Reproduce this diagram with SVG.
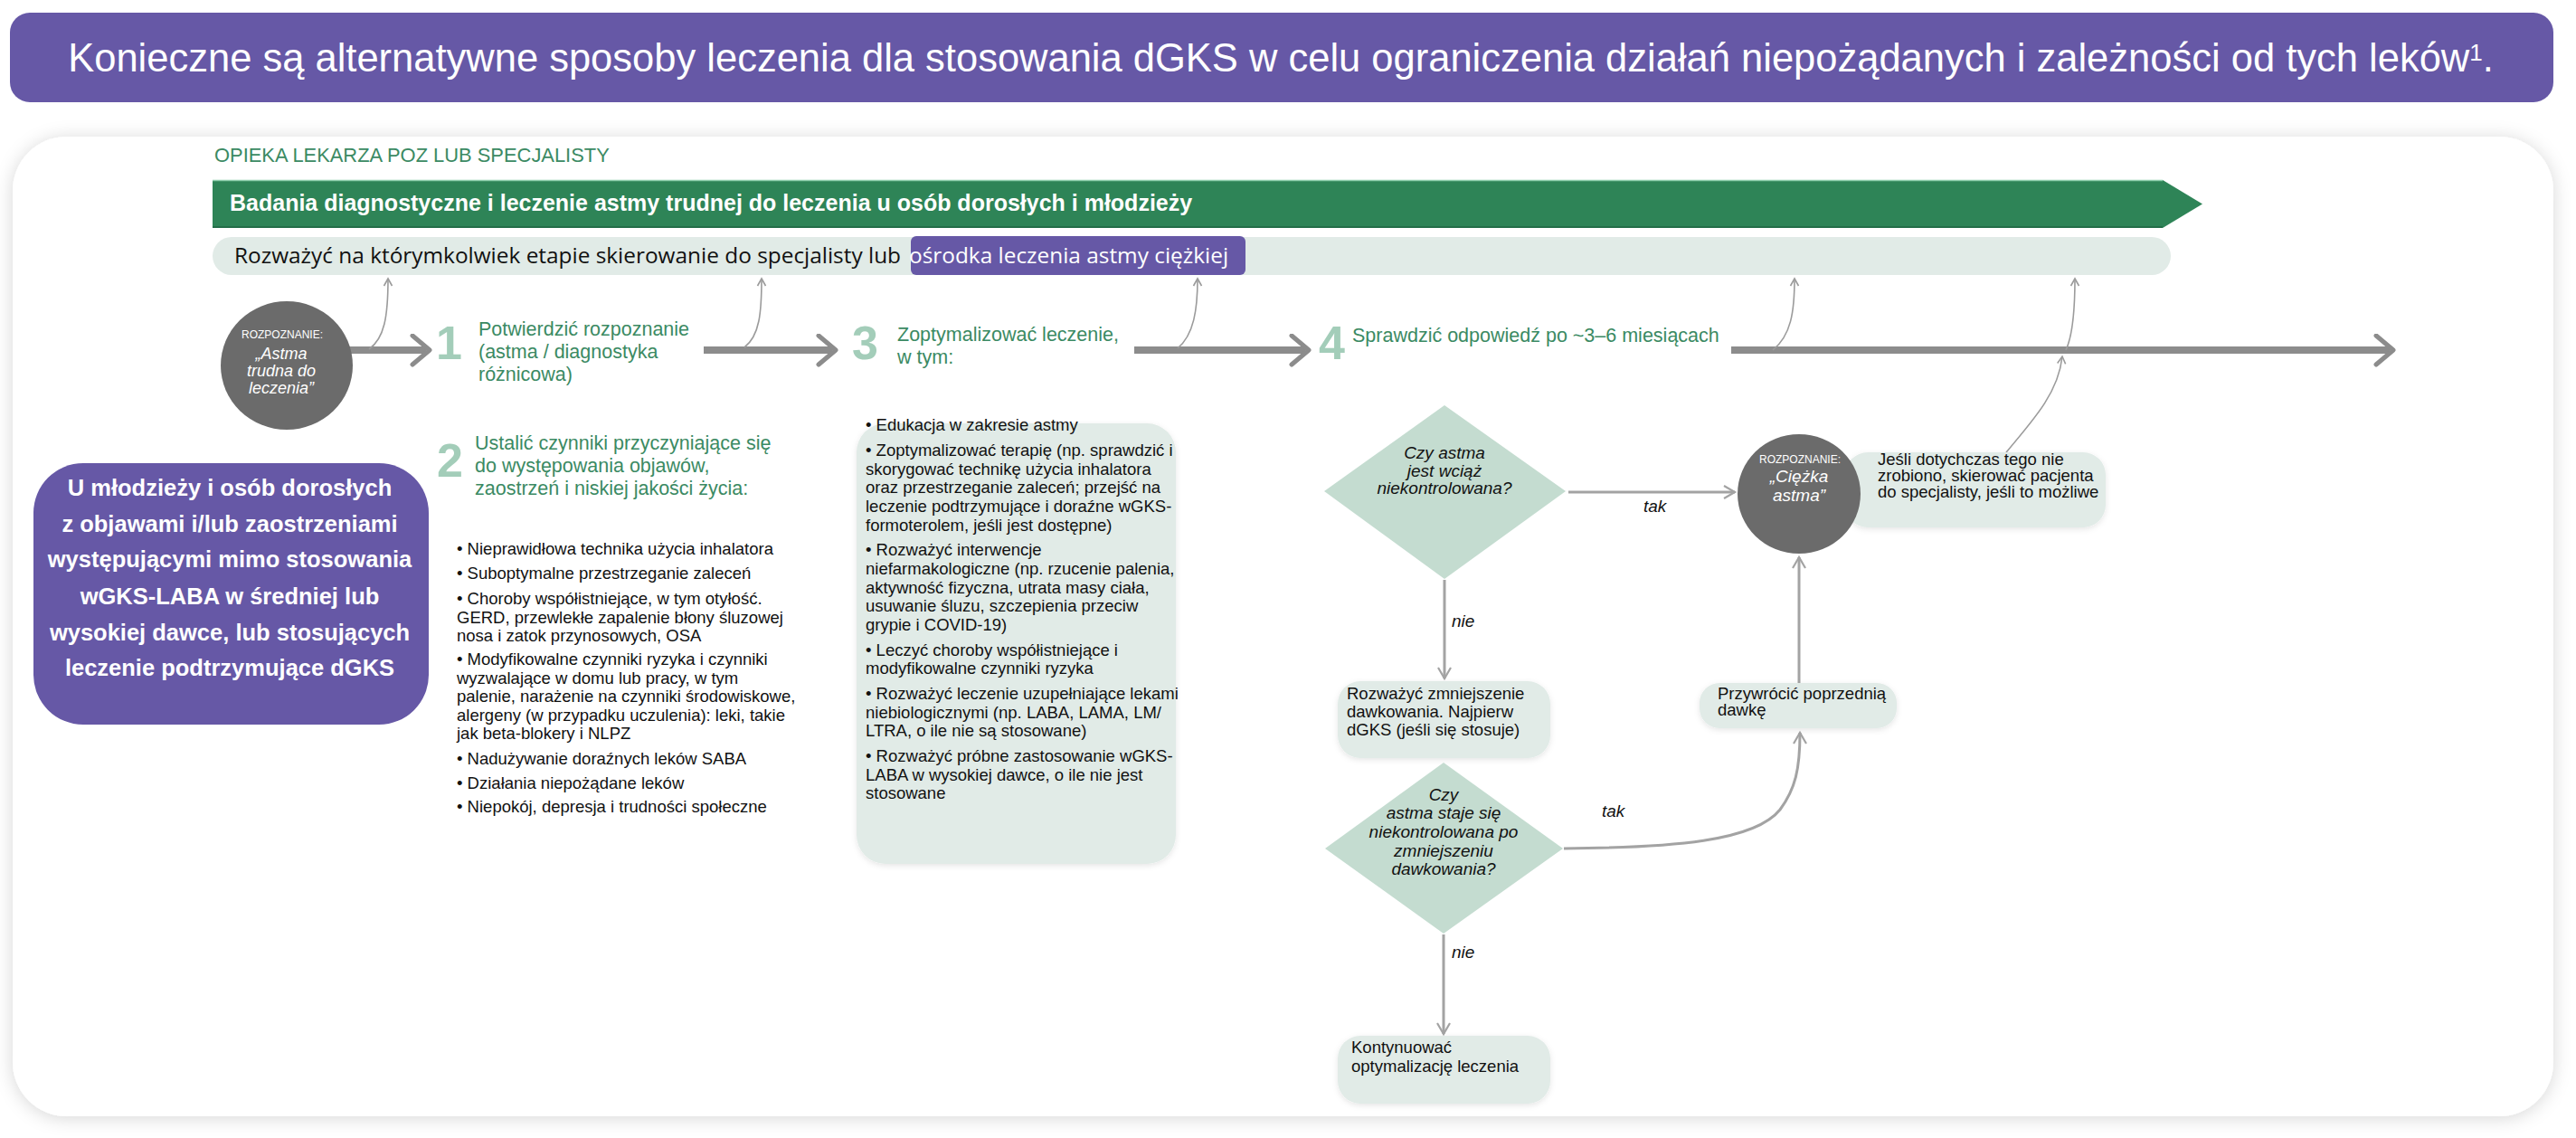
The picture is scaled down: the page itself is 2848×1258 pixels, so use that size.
<svg xmlns="http://www.w3.org/2000/svg" width="2848" height="1258" viewBox="0 0 2848 1258">
<defs>
<style>
.f{font-family:"Liberation Sans",Arial,sans-serif;}
.w{fill:#ffffff;}
.k{fill:#111111;}
.g{fill:#3b8a63;font-size:21.5px;}
.num{fill:#a3cdb9;font-size:52px;font-weight:bold;}
.li{font-size:18.5px;fill:#111;}
.it{font-style:italic;}
.box{fill:#e1ebe7;}
.dia{fill:#c4dcd0;}
.big{fill:none;stroke:#8c8c8c;stroke-width:8;}
.thin{fill:none;stroke:#9b9b9b;stroke-width:1.6;}
.flow{fill:none;stroke:#a3a3a3;stroke-width:3;}
</style>
<filter id="sh" x="-5%" y="-8%" width="110%" height="116%">
<feDropShadow dx="0" dy="2" stdDeviation="10" flood-color="#000" flood-opacity="0.16"/>
</filter>
<filter id="bs" x="-10%" y="-10%" width="120%" height="130%">
<feDropShadow dx="0" dy="2" stdDeviation="3" flood-color="#000" flood-opacity="0.10"/>
</filter>
<marker id="mBig" markerUnits="userSpaceOnUse" markerWidth="34" markerHeight="40" refX="18" refY="18" orient="auto">
<path d="M3,2 L22,18 L3,34" fill="none" stroke="#8c8c8c" stroke-width="5" stroke-linecap="round" stroke-linejoin="round"/>
</marker>
<marker id="mThin" markerUnits="userSpaceOnUse" markerWidth="14" markerHeight="14" refX="9" refY="6" orient="auto">
<path d="M1,1.5 L9,6 L1,10.5" fill="none" stroke="#9b9b9b" stroke-width="1.6"/>
</marker>
<marker id="mFlow" markerUnits="userSpaceOnUse" markerWidth="18" markerHeight="18" refX="13" refY="8" orient="auto">
<path d="M1,1 L13,8 L1,15" fill="none" stroke="#a3a3a3" stroke-width="2.2"/>
</marker>
</defs>

<rect width="2848" height="1258" fill="#ffffff"/>

<g id="title">
<rect x="11" y="14" width="2812" height="99" rx="22" fill="#6658a6"/>
<text class="f w" x="1416" y="79" font-size="43.5" text-anchor="middle">Konieczne są alternatywne sposoby leczenia dla stosowania dGKS w celu ograniczenia działań niepożądanych i zależności od tych leków<tspan font-size="26" dy="-12">1</tspan><tspan dy="12">.</tspan></text>
</g>

<g id="panel">
<rect x="14" y="151" width="2809" height="1083" rx="60" fill="#ffffff" filter="url(#sh)"/>
</g>

<g id="care-label">
<text class="f" x="237" y="179" font-size="21.9" fill="#3b8a63">OPIEKA LEKARZA POZ LUB SPECJALISTY</text>
</g>

<g id="green-bar">
<polygon points="235,199 2391,199 2435,225.5 2391,252 235,252" fill="#2e8457"/>
<line x1="235" y1="199.5" x2="2391" y2="199.5" stroke="#8fd0ad" stroke-width="1.5"/>
<line x1="235" y1="251" x2="2391" y2="251" stroke="#236e48" stroke-width="2"/>
<text class="f w" x="254" y="233" font-size="25" font-weight="bold">Badania diagnostyczne i leczenie astmy trudnej do leczenia u osób dorosłych i młodzieży</text>
</g>

<g id="referral-bar">
<rect x="235" y="262" width="2165" height="42" rx="21" fill="#e1ebe7"/>
<rect x="1007" y="261" width="370" height="43" rx="6" fill="#6658a6"/>
<text x="259" y="291" font-family="'Open Sans',sans-serif" font-size="24.4" fill="#111">Rozważyć na którymkolwiek etapie skierowanie do specjalisty lub</text>
<text x="1005" y="291" font-family="'Open Sans',sans-serif" font-size="24.4" fill="#ffffff">ośrodka leczenia astmy ciężkiej</text>
</g>

<g id="connectors">
<path class="big" d="M386,387 H471" marker-end="url(#mBig)"/>
<path class="big" d="M778,387 H920" marker-end="url(#mBig)"/>
<path class="big" d="M1254,387 H1443" marker-end="url(#mBig)"/>
<path class="big" d="M1914,387 H2642" marker-end="url(#mBig)"/>
<path class="thin" d="M408,386 C425,374 429,350 429,308" marker-end="url(#mThin)"/>
<path class="thin" d="M823,384 C840,371 842,345 842,308" marker-end="url(#mThin)"/>
<path class="thin" d="M1302,385 C1320,370 1324,342 1324,308" marker-end="url(#mThin)"/>
<path class="thin" d="M1960,387 C1980,371 1984,345 1984,308" marker-end="url(#mThin)"/>
<path class="thin" d="M2218,500 C2252,460 2276,432 2280,394" marker-end="url(#mThin)"/>
<path class="thin" d="M2284,387 C2292,370 2294,342 2294,308" stroke-width="2.4" marker-end="url(#mThin)"/>
<path class="flow" d="M1734,544 H1918" marker-end="url(#mFlow)"/>
<path class="flow" d="M1597,641 V750" marker-end="url(#mFlow)"/>
<path class="flow" d="M1989,757 V616" marker-end="url(#mFlow)"/>
<path class="flow" d="M1596,1033 V1143" marker-end="url(#mFlow)"/>
<path class="flow" d="M1729,938 C1850,937 1940,930 1968,895 C1985,872 1990,850 1990,810" marker-end="url(#mFlow)"/>
<text class="f it k" x="1817" y="566" font-size="19">tak</text>
<text class="f it k" x="1605" y="693" font-size="19">nie</text>
<text class="f it k" x="1771" y="903" font-size="19">tak</text>
<text class="f it k" x="1605" y="1059" font-size="19">nie</text>
</g>

<g id="diagnosis-difficult">
<ellipse cx="317" cy="404" rx="73" ry="71" fill="#6b6b6b"/>
<text class="f w" x="312" y="374" font-size="12" text-anchor="middle">ROZPOZNANIE:</text>
<text class="f w it" x="311" y="397" font-size="18" text-anchor="middle">„Astma</text>
<text class="f w it" x="311" y="416" font-size="18" text-anchor="middle">trudna do</text>
<text class="f w it" x="311" y="435" font-size="18" text-anchor="middle">leczenia”</text>
</g>

<g id="step1">
<text class="f num" x="482" y="397">1</text>
<text class="f g" x="529" y="371">Potwierdzić rozpoznanie</text>
<text class="f g" x="529" y="396">(astma / diagnostyka</text>
<text class="f g" x="529" y="421">różnicowa)</text>
</g>

<g id="patient-box">
<rect x="37" y="512" width="437" height="289" rx="55" fill="#6658a6"/>
<g class="f w" font-size="25.5" font-weight="bold" text-anchor="middle">
<text x="254" y="548">U młodzieży i osób dorosłych</text>
<text x="254" y="588">z objawami i/lub zaostrzeniami</text>
<text x="254" y="627">występującymi mimo stosowania</text>
<text x="254" y="668">wGKS-LABA w średniej lub</text>
<text x="254" y="708">wysokiej dawce, lub stosujących</text>
<text x="254" y="747">leczenie podtrzymujące dGKS</text>
</g>
</g>

<g id="step2">
<text class="f num" x="483" y="527">2</text>
<text class="f g" x="525" y="497">Ustalić czynniki przyczyniające się</text>
<text class="f g" x="525" y="522">do występowania objawów,</text>
<text class="f g" x="525" y="547">zaostrzeń i niskiej jakości życia:</text>
<g class="f li">
<text x="505" y="613">• Nieprawidłowa technika użycia inhalatora</text>
<text x="505" y="640">• Suboptymalne przestrzeganie zaleceń</text>
<text x="505" y="668">• Choroby współistniejące, w tym otyłość.</text>
<text x="505" y="688.5">GERD, przewlekłe zapalenie błony śluzowej</text>
<text x="505" y="709">nosa i zatok przynosowych, OSA</text>
<text x="505" y="735">• Modyfikowalne czynniki ryzyka i czynniki</text>
<text x="505" y="755.5">wyzwalające w domu lub pracy, w tym</text>
<text x="505" y="776">palenie, narażenie na czynniki środowiskowe,</text>
<text x="505" y="796.5">alergeny (w przypadku uczulenia): leki, takie</text>
<text x="505" y="817">jak beta-blokery i NLPZ</text>
<text x="505" y="845">• Nadużywanie doraźnych leków SABA</text>
<text x="505" y="872">• Działania niepożądane leków</text>
<text x="505" y="898">• Niepokój, depresja i trudności społeczne</text>
</g>
</g>

<g id="step3">
<text class="f num" x="942" y="397">3</text>
<text class="f g" x="992" y="377">Zoptymalizować leczenie,</text>
<text class="f g" x="992" y="402">w tym:</text>
<rect class="box" x="947" y="468" width="353" height="487" rx="32" filter="url(#bs)"/>
<g class="f li">
<text x="957" y="476">• Edukacja w zakresie astmy</text>
<text x="957" y="504">• Zoptymalizować terapię (np. sprawdzić i</text>
<text x="957" y="525">skorygować technikę użycia inhalatora</text>
<text x="957" y="545">oraz przestrzeganie zaleceń; przejść na</text>
<text x="957" y="566">leczenie podtrzymujące i doraźne wGKS-</text>
<text x="957" y="587">formoterolem, jeśli jest dostępne)</text>
<text x="957" y="614">• Rozważyć interwencje</text>
<text x="957" y="635">niefarmakologiczne (np. rzucenie palenia,</text>
<text x="957" y="656">aktywność fizyczna, utrata masy ciała,</text>
<text x="957" y="676">usuwanie śluzu, szczepienia przeciw</text>
<text x="957" y="697">grypie i COVID-19)</text>
<text x="957" y="725">• Leczyć choroby współistniejące i</text>
<text x="957" y="745">modyfikowalne czynniki ryzyka</text>
<text x="957" y="773">• Rozważyć leczenie uzupełniające lekami</text>
<text x="957" y="794">niebiologicznymi (np. LABA, LAMA, LM/</text>
<text x="957" y="814">LTRA, o ile nie są stosowane)</text>
<text x="957" y="842">• Rozważyć próbne zastosowanie wGKS-</text>
<text x="957" y="863">LABA w wysokiej dawce, o ile nie jest</text>
<text x="957" y="883">stosowane</text>
</g>
</g>

<g id="step4">
<text class="f num" x="1458" y="397">4</text>
<text class="f g" x="1495" y="378">Sprawdzić odpowiedź po ~3–6 miesiącach</text>
</g>

<g id="decision-uncontrolled">
<polygon class="dia" points="1464,543 1597,448 1731,543 1597,640"/>
<g class="f it k" font-size="19" text-anchor="middle">
<text x="1597" y="507">Czy astma</text>
<text x="1597" y="527">jest wciąż</text>
<text x="1597" y="546">niekontrolowana?</text>
</g>
</g>

<g id="refer-box">
<rect class="box" x="2040" y="500" width="288" height="83" rx="25" filter="url(#bs)"/>
<g class="f li">
<text x="2076" y="514">Jeśli dotychczas tego nie</text>
<text x="2076" y="532">zrobiono, skierować pacjenta</text>
<text x="2076" y="550">do specjalisty, jeśli to możliwe</text>
</g>
</g>

<g id="diagnosis-severe">
<ellipse cx="1989" cy="546" rx="68" ry="66" fill="#6b6b6b"/>
<text class="f w" x="1990" y="512" font-size="12" text-anchor="middle">ROZPOZNANIE:</text>
<text class="f w it" x="1989" y="533" font-size="19" text-anchor="middle">„Ciężka</text>
<text class="f w it" x="1989" y="554" font-size="19" text-anchor="middle">astma”</text>
</g>

<g id="step-down-box">
<rect class="box" x="1479" y="753" width="235" height="85" rx="25" filter="url(#bs)"/>
<g class="f li">
<text x="1489" y="773">Rozważyć zmniejszenie</text>
<text x="1489" y="793">dawkowania. Najpierw</text>
<text x="1489" y="813">dGKS (jeśli się stosuje)</text>
</g>
</g>

<g id="restore-box">
<rect class="box" x="1879" y="755" width="218" height="50" rx="22" filter="url(#bs)"/>
<g class="f li">
<text x="1899" y="773">Przywrócić poprzednią</text>
<text x="1899" y="791">dawkę</text>
</g>
</g>

<g id="decision-after-stepdown">
<polygon class="dia" points="1465,938 1596,843 1728,938 1596,1032"/>
<g class="f it k" font-size="19" text-anchor="middle">
<text x="1596" y="885">Czy</text>
<text x="1596" y="905">astma staje się</text>
<text x="1596" y="926">niekontrolowana po</text>
<text x="1596" y="947">zmniejszeniu</text>
<text x="1596" y="967">dawkowania?</text>
</g>
</g>

<g id="continue-box">
<rect class="box" x="1479" y="1145" width="235" height="75" rx="25" filter="url(#bs)"/>
<g class="f li">
<text x="1494" y="1164">Kontynuować</text>
<text x="1494" y="1185">optymalizację leczenia</text>
</g>
</g>
</svg>
